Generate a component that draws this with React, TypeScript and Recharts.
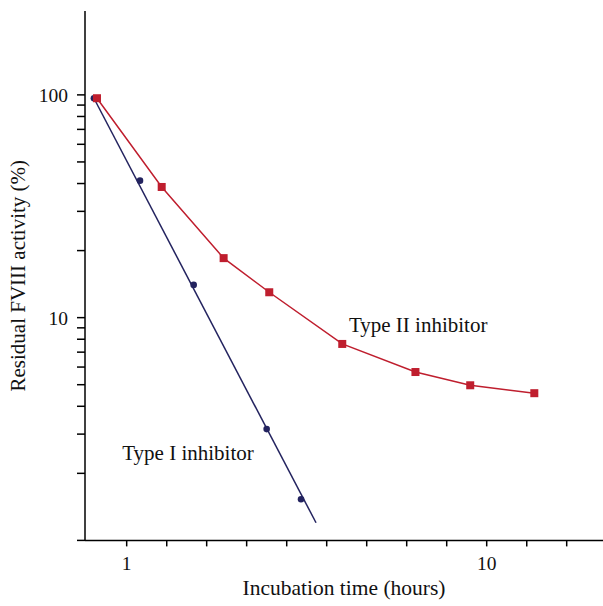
import React from 'react';
import { ComposedChart, XAxis, YAxis, Line, Scatter, ReferenceDot } from 'recharts';

// Type I inhibitor: measured points (hours, % residual)
const typeIHours = [0.811, 1.089, 1.535, 2.448, 3.05];
const typeIActivity = [96.6, 41.2, 14.03, 3.16, 1.53];
// Type I fitted line endpoints
const typeIFitHours = [0.811, 3.357];
const typeIFitActivity = [96.6, 1.2];
// Type II inhibitor
const typeIIHours = [0.827, 1.251, 1.859, 2.489, 3.97, 6.34, 9.0, 13.56];
const typeIIActivity = [96.6, 38.6, 18.5, 13.0, 7.62, 5.7, 4.97, 4.58];

const xTicks = [1, 1.292, 1.668, 2.154, 2.783, 3.594, 4.642, 5.995, 7.743, 10, 12.92, 16.68];
const xTickLabels = ['1', '10'];
const yTicks = [1, 2, 3, 4, 5, 6, 7, 8, 9, 10, 20, 30, 40, 50, 60, 70, 80, 90, 100];
const yTickLabels = ['10', '100'];

const annotationText = ['Type I inhibitor', 'Type II inhibitor'];
const annotationHours = [1.48, 6.45];
const annotationActivity = [2.49, 9.27];

const NAVY = '#23235f';
const RED = '#bf1e2e';
const FONT = '"Liberation Serif", "Times New Roman", serif';

const typeIData = typeIHours.map((h, i) => ({ h, a: typeIActivity[i] }));
const typeIFitData = typeIFitHours.map((h, i) => ({ h, a: typeIFitActivity[i] }));
const typeIIData = typeIIHours.map((h, i) => ({ h, a: typeIIActivity[i] }));

const fmtX = (v: number) => {
  const s = String(Math.round(v * 1000) / 1000);
  return xTickLabels.includes(s) ? s : '';
};
const fmtY = (v: number) => {
  const s = String(v);
  return yTickLabels.includes(s) ? s : '';
};

const Square = (props: any) => {
  const { cx, cy, index } = props;
  if (cx == null || cy == null) return <g key={index} />;
  return <rect key={index} x={cx - 4} y={cy - 4} width={8} height={8} fill={RED} />;
};

const Circle = (props: any) => {
  const { cx, cy } = props;
  return <circle cx={cx} cy={cy} r={3.3} fill={NAVY} />;
};

export default function App() {
  return (
    <div style={{ position: 'absolute', left: 0, top: 0, width: 603, height: 606, background: '#fff' }}>
      <ComposedChart width={603} height={606} margin={{ top: 11, right: 0, bottom: 5.6, left: 0 }}>
        <XAxis
          dataKey="h"
          type="number"
          scale="log"
          domain={[0.766, 21.04]}
          allowDataOverflow
          ticks={xTicks}
          interval={0}
          tickFormatter={fmtX}
          height={60}
          tickSize={6}
          tickMargin={10}
          axisLine={{ stroke: '#000', strokeWidth: 1.5 }}
          tickLine={{ stroke: '#000', strokeWidth: 1.5 }}
          tick={{ fill: '#111', fontSize: 19.5, fontFamily: FONT }}
          label={{ value: 'Incubation time (hours)', position: 'insideBottom', offset: 5, fill: '#111', fontSize: 21.5, fontFamily: FONT }}
        />
        <YAxis
          dataKey="a"
          type="number"
          scale="log"
          domain={[1, 238]}
          allowDataOverflow
          ticks={yTicks}
          interval={0}
          tickFormatter={fmtY}
          width={85}
          tickSize={8}
          tickMargin={9}
          axisLine={{ stroke: '#000', strokeWidth: 1.5 }}
          tickLine={{ stroke: '#000', strokeWidth: 1.5 }}
          tick={{ fill: '#111', fontSize: 19.5, fontFamily: FONT }}
          label={{ value: 'Residual FVIII activity (%)', angle: -90, position: 'insideLeft', offset: 18, textAnchor: 'middle', fill: '#111', fontSize: 21, fontFamily: FONT }}
        />
        <Line
          data={typeIFitData}
          dataKey="a"
          type="linear"
          stroke={NAVY}
          strokeWidth={1.5}
          dot={false}
          activeDot={false}
          isAnimationActive={false}
        />
        <Scatter data={typeIData} dataKey="a" fill={NAVY} shape={Circle} isAnimationActive={false} />
        <Line
          data={typeIIData}
          dataKey="a"
          type="linear"
          stroke={RED}
          strokeWidth={1.5}
          dot={Square}
          activeDot={false}
          isAnimationActive={false}
        />
        {annotationText.map((t, i) => (
          <ReferenceDot
            key={t}
            x={annotationHours[i]}
            y={annotationActivity[i]}
            r={0}
            fill="none"
            stroke="none"
            label={{ value: t, position: 'center', fill: '#111', fontSize: 21, fontFamily: FONT }}
          />
        ))}
      </ComposedChart>
    </div>
  );
}
